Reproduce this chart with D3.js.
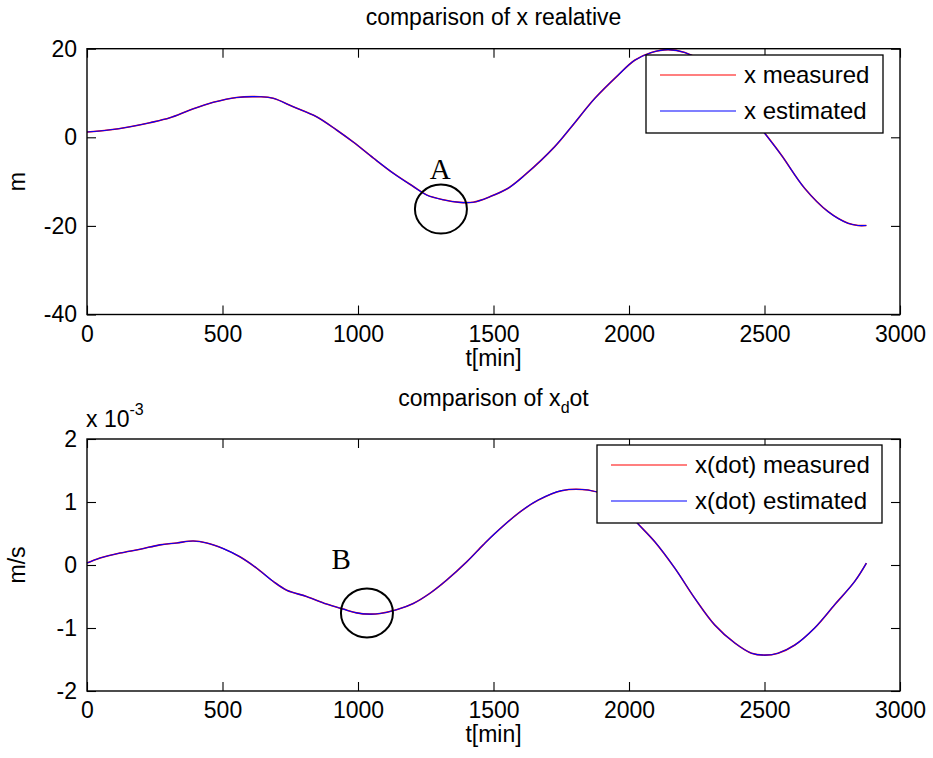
<!DOCTYPE html>
<html>
<head>
<meta charset="utf-8">
<script src="https://cdn.jsdelivr.net/npm/d3@7"></script>
<style>
  body { margin: 0; background: #fff; }
  svg text { font-family: "Liberation Sans", Arial, sans-serif; }
</style>
</head>
<body>
<div id="chart"></div>
<script>
// time axis ticks (shared)
const xTicks = [0, 500, 1000, 1500, 2000, 2500, 3000];

// top panel: x relative [m]
const xTime = [0, 79, 159, 232, 306, 380, 466, 552, 639, 687, 761, 847, 921, 983, 1057, 1130, 1204, 1253, 1314, 1376, 1425, 1487, 1554, 1616, 1726, 1788, 1874, 1960, 2021, 2083, 2144, 2206, 2260, 2320, 2380, 2440, 2501, 2562, 2648, 2735, 2808, 2845, 2876];
const xMeasured = [1.2, 1.65, 2.4, 3.3, 4.4, 6.15, 7.9, 9.0, 9.15, 8.8, 6.9, 4.65, 1.65, -1.1, -4.7, -8.1, -11.1, -13.0, -14.1, -14.7, -14.65, -13.4, -11.5, -8.5, -2.1, 2.4, 8.8, 14.05, 17.4, 19.15, 19.8, 19.15, 17.5, 14.2, 10, 5.6, 0.9, -4.0, -11.5, -16.8, -19.4, -19.9, -19.9];
const xEstimated = [1.2, 1.65, 2.4, 3.3, 4.4, 6.15, 7.9, 9.0, 9.15, 8.8, 6.9, 4.65, 1.65, -1.1, -4.7, -8.1, -11.1, -13.0, -14.1, -14.7, -14.65, -13.4, -11.5, -8.5, -2.1, 2.4, 8.8, 14.05, 17.4, 19.15, 19.8, 19.15, 17.5, 14.2, 10, 5.6, 0.9, -4.0, -11.5, -16.8, -19.4, -19.9, -19.9];
const xYTicks = [-40, -20, 0, 20];

// bottom panel: x dot [m/s], values in 1e-3
const vTime = [0, 48, 122, 196, 269, 331, 392, 442, 503, 564, 626, 687, 737, 810, 884, 946, 995, 1044, 1081, 1142, 1204, 1265, 1327, 1401, 1462, 1505, 1591, 1665, 1751, 1849, 1911, 1980, 2034, 2095, 2169, 2243, 2316, 2391, 2452, 2501, 2550, 2612, 2685, 2759, 2833, 2876];
const vMeasured = [0.03, 0.11, 0.19, 0.25, 0.32, 0.35, 0.38, 0.35, 0.26, 0.13, -0.05, -0.26, -0.40, -0.50, -0.62, -0.70, -0.76, -0.78, -0.77, -0.71, -0.61, -0.45, -0.24, 0.05, 0.32, 0.50, 0.82, 1.03, 1.18, 1.19, 1.11, 0.90, 0.65, 0.37, -0.05, -0.53, -0.95, -1.24, -1.40, -1.43, -1.40, -1.27, -1.00, -0.63, -0.26, 0.03];
const vEstimated = [0.03, 0.11, 0.19, 0.25, 0.32, 0.35, 0.38, 0.35, 0.26, 0.13, -0.05, -0.26, -0.40, -0.50, -0.62, -0.70, -0.76, -0.78, -0.77, -0.71, -0.61, -0.45, -0.24, 0.05, 0.32, 0.50, 0.82, 1.03, 1.18, 1.19, 1.11, 0.90, 0.65, 0.37, -0.05, -0.53, -0.95, -1.24, -1.40, -1.43, -1.40, -1.27, -1.00, -0.63, -0.26, 0.03];
const vYTicks = [-2, -1, 0, 1, 2];

// circled annotations (data coords)
const notesTop = [{ label: "A", t: 1306, v: -16.2, lt: 1303, lv: -9.4 }];
const notesBottom = [{ label: "B", t: 1033, v: -0.76, lt: 938, lv: -0.06 }];

const W = 933, H = 758;
const fontSize = 23;

const svg = d3.select("#chart")
  .append("svg")
    .attr("width", W)
    .attr("height", H);

const drawPanel = cfg => {
  const x = d3.scaleLinear().domain([0, 3000]).range([87, 900]);
  const y = d3.scaleLinear().domain(cfg.yDomain).range([cfg.bottom, cfg.top]);
  const g = svg.append("g");
  const plain = d => d.toString();

  // inward ticks on all four sides
  const tick = 9;
  g.append("g")
    .attr("transform", `translate(0,${cfg.bottom})`)
    .call(d3.axisBottom(x).tickValues(xTicks).tickFormat(plain).tickSizeInner(-tick).tickSizeOuter(0).tickPadding(11))
    .call(a => a.select(".domain").remove());
  g.append("g")
    .attr("transform", `translate(0,${cfg.top})`)
    .call(d3.axisTop(x).tickValues(xTicks).tickSizeInner(-tick).tickSizeOuter(0).tickFormat(""))
    .call(a => a.select(".domain").remove());
  g.append("g")
    .attr("transform", `translate(87,0)`)
    .call(d3.axisLeft(y).tickValues(cfg.yTicks).tickFormat(plain).tickSizeInner(-tick).tickSizeOuter(0).tickPadding(10))
    .call(a => a.select(".domain").remove());
  g.append("g")
    .attr("transform", `translate(900,0)`)
    .call(d3.axisRight(y).tickValues(cfg.yTicks).tickSizeInner(-tick).tickSizeOuter(0).tickFormat(""))
    .call(a => a.select(".domain").remove());

  g.selectAll(".tick line").attr("stroke", "#000").attr("stroke-width", 1.1);
  g.selectAll(".tick text")
    .attr("fill", "#000")
    .style("font-size", fontSize + "px")
    .style("font-family", "'Liberation Sans', Arial, sans-serif");

  // the lines: measured under estimated
  const line = d3.line()
    .x(d => x(d.t))
    .y(d => y(d.v))
    .curve(d3.curveCatmullRom.alpha(0.5));

  const measured = cfg.time.map((t, i) => ({ t: t, v: cfg.measured[i] }));
  const estimated = cfg.time.map((t, i) => ({ t: t, v: cfg.estimated[i] }));

  g.append("path")
    .attr("d", line(measured))
    .attr("fill", "none")
    .attr("stroke", "#ff0000")
    .attr("stroke-width", 1.6);
  g.append("path")
    .attr("d", line(estimated))
    .attr("fill", "none")
    .attr("stroke", "#0000ff")
    .attr("stroke-width", 1.1);

  // box
  g.append("rect")
    .attr("x", 87)
    .attr("y", cfg.top)
    .attr("width", 900 - 87)
    .attr("height", cfg.bottom - cfg.top)
    .attr("fill", "none")
    .attr("stroke", "#000")
    .attr("stroke-width", 1.4);

  // annotations
  cfg.notes.forEach(n => {
    g.append("ellipse")
      .attr("cx", x(n.t))
      .attr("cy", y(n.v))
      .attr("rx", 26)
      .attr("ry", 24.5)
      .attr("fill", "none")
      .attr("stroke", "#000")
      .attr("stroke-width", 2);
    g.append("text")
      .attr("x", x(n.lt))
      .attr("y", y(n.lv))
      .attr("text-anchor", "middle")
      .style("font-family", "'Liberation Serif', 'Times New Roman', serif")
      .style("font-size", "29px")
      .text(n.label);
  });

  // legend
  const lg = g.append("g").attr("transform", `translate(${cfg.legend.x},${cfg.legend.y})`);
  lg.append("rect")
    .attr("width", cfg.legend.w)
    .attr("height", 78)
    .attr("fill", "#fff")
    .attr("stroke", "#000")
    .attr("stroke-width", 1.3);
  const items = [
    { name: cfg.names[0], color: "#ff0000", dy: 20 },
    { name: cfg.names[1], color: "#0000ff", dy: 56 }
  ];
  items.forEach(it => {
    lg.append("line")
      .attr("x1", 14).attr("x2", 90)
      .attr("y1", it.dy).attr("y2", it.dy)
      .attr("stroke", it.color)
      .attr("stroke-width", 1.1);
    lg.append("text")
      .attr("x", 98)
      .attr("y", it.dy)
      .attr("dy", "0.35em")
      .style("font-size", "24px")
      .text(it.name);
  });

  // x label
  g.append("text")
    .attr("x", (87 + 900) / 2)
    .attr("y", cfg.bottom + 51)
    .attr("text-anchor", "middle")
    .style("font-size", fontSize + "px")
    .text("t[min]");

  // y label
  g.append("text")
    .attr("transform", `translate(25,${(cfg.top + cfg.bottom) / 2}) rotate(-90)`)
    .attr("text-anchor", "middle")
    .style("font-size", fontSize + "px")
    .text(cfg.yLabel);

  return g;
};

drawPanel({
  top: 48.7, bottom: 314.5,
  yDomain: [-40, 20], yTicks: xYTicks,
  time: xTime, measured: xMeasured, estimated: xEstimated,
  notes: notesTop,
  legend: { x: 646, y: 55, w: 237 },
  names: ["x measured", "x estimated"],
  yLabel: "m"
});

drawPanel({
  top: 439, bottom: 691,
  yDomain: [-2, 2], yTicks: vYTicks,
  time: vTime, measured: vMeasured, estimated: vEstimated,
  notes: notesBottom,
  legend: { x: 597, y: 445, w: 285 },
  names: ["x(dot) measured", "x(dot) estimated"],
  yLabel: "m/s"
});

// titles
svg.append("text")
  .attr("x", 493.5)
  .attr("y", 25)
  .attr("text-anchor", "middle")
  .style("font-size", fontSize + "px")
  .text("comparison of x realative");

const t2 = svg.append("text")
  .attr("x", 493.5)
  .attr("y", 406)
  .attr("text-anchor", "middle")
  .style("font-size", fontSize + "px");
t2.append("tspan").text("comparison of x");
t2.append("tspan").attr("dy", 7).style("font-size", "16px").text("d");
t2.append("tspan").attr("dy", -7).text("ot");

// exponent label
const ex = svg.append("text")
  .attr("x", 86)
  .attr("y", 427)
  .style("font-size", fontSize + "px");
ex.append("tspan").text("x 10");
ex.append("tspan").attr("dy", -12).style("font-size", "16px").text("-3");
</script>
</body>
</html>
